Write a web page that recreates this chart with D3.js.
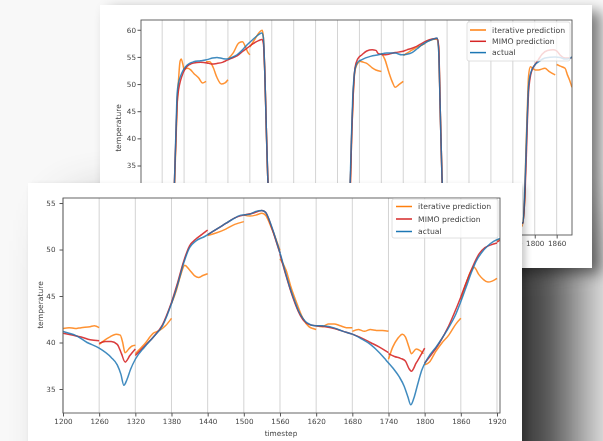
<!DOCTYPE html>
<html>
<head>
<meta charset="utf-8">
<script src="https://cdn.jsdelivr.net/npm/d3@7"></script>
<style>
  body { margin: 0; background: #f7f7f7; }
  svg { display: block; }
  text { font-family: "DejaVu Sans", sans-serif; }
</style>
</head>
<body>
<div id="chart"></div>
<script>
// ---------- data: front chart (zoomed window) ----------
const frontXTicks = [1200, 1260, 1320, 1380, 1440, 1500, 1560, 1620, 1680, 1740, 1800, 1860, 1920];
const frontYTicks = [35, 40, 45, 50, 55];

const frontActual = [
  [1200, 41.2], [1210, 41.0], [1220, 40.8], [1240, 40.0], [1260, 39.4], [1280, 38.4], [1290, 37.6],
  [1296, 36.6], [1301, 35.4], [1306, 36.0], [1312, 37.1], [1320, 38.2], [1335, 39.5], [1350, 40.6],
  [1365, 41.8], [1380, 44.2], [1390, 46.2], [1400, 48.5], [1410, 50.2], [1420, 50.9], [1435, 51.4],
  [1450, 52.0], [1465, 52.6], [1480, 53.2], [1495, 53.7], [1510, 53.8], [1520, 54.1], [1530, 54.2],
  [1536, 54.0], [1546, 52.5], [1555, 50.7], [1562, 49.2], [1570, 47.3], [1576, 46.0], [1583, 44.7],
  [1590, 43.5], [1598, 42.6], [1605, 42.1], [1618, 41.8], [1630, 41.8], [1648, 41.6], [1665, 41.2],
  [1680, 40.9], [1695, 40.4], [1710, 39.8], [1725, 38.9], [1736, 38.1], [1748, 37.2], [1758, 36.3],
  [1766, 35.3], [1772, 34.2], [1777, 33.3], [1782, 34.0], [1788, 35.4], [1795, 37.0], [1805, 38.3],
  [1820, 39.6], [1836, 41.2], [1852, 43.1], [1860, 44.4], [1869, 46.0], [1878, 47.6], [1885, 48.7],
  [1895, 49.7], [1905, 50.4], [1915, 50.9], [1925, 51.2]
];

const frontMimo = [
  [[1200, 41.0], [1215, 40.8], [1230, 40.6], [1245, 40.3], [1260, 40.2]],
  [[1260, 39.9], [1270, 40.1], [1280, 40.1], [1290, 39.8], [1297, 38.8], [1303, 37.9], [1311, 38.6], [1320, 39.3]],
  [[1320, 38.6], [1335, 39.6], [1350, 40.6], [1365, 41.9], [1380, 44.3]],
  [[1380, 44.3], [1390, 46.4], [1400, 48.7], [1410, 50.4], [1420, 51.1], [1430, 51.6], [1440, 52.1]],
  [[1440, 51.6], [1455, 52.2], [1470, 52.8], [1485, 53.4], [1500, 53.7]],
  [[1500, 53.7], [1515, 53.9], [1530, 54.2], [1536, 54.0], [1546, 52.4], [1555, 50.6], [1560, 49.6]],
  [[1560, 49.5], [1570, 47.2], [1580, 45.1], [1590, 43.4], [1600, 42.3], [1610, 41.9], [1620, 41.8]],
  [[1620, 41.8], [1635, 41.7], [1650, 41.5], [1665, 41.2], [1680, 40.9]],
  [[1680, 40.9], [1695, 40.5], [1710, 40.0], [1725, 39.5], [1740, 38.9]],
  [[1740, 38.8], [1750, 38.5], [1760, 38.3], [1768, 38.0], [1774, 37.2], [1778, 36.9], [1786, 37.8], [1795, 38.8], [1800, 39.4]],
  [[1800, 37.8], [1810, 38.6], [1825, 40.0], [1840, 41.8], [1852, 43.6], [1860, 44.9]],
  [[1860, 44.9], [1870, 46.6], [1880, 48.2], [1890, 49.5], [1900, 50.2], [1910, 50.5], [1920, 50.7]],
  [[1920, 50.8], [1925, 51.0]]
];

const frontIterative = [
  [[1200, 41.5], [1210, 41.6], [1220, 41.5], [1230, 41.6], [1245, 41.7], [1252, 41.8], [1260, 41.6]],
  [[1260, 39.8], [1268, 40.2], [1278, 40.6], [1288, 40.9], [1295, 40.8], [1299, 40.0], [1303, 38.9], [1309, 39.3], [1314, 39.6], [1320, 39.7]],
  [[1320, 38.8], [1335, 39.8], [1350, 41.0], [1360, 41.3], [1370, 41.8], [1380, 42.6]],
  [[1380, 44.2], [1388, 45.6], [1395, 47.2], [1402, 48.3], [1410, 47.8], [1418, 47.2], [1425, 47.0], [1432, 47.2], [1440, 47.4]],
  [[1440, 51.5], [1455, 51.8], [1470, 52.2], [1485, 52.7], [1500, 53.0]],
  [[1500, 53.7], [1510, 53.6], [1520, 53.7], [1530, 53.9], [1536, 53.7], [1546, 52.3], [1554, 51.0], [1560, 49.9]],
  [[1560, 49.0], [1570, 47.8], [1578, 46.0], [1588, 44.2], [1598, 42.6], [1608, 41.7], [1615, 41.5], [1620, 41.4]],
  [[1620, 41.8], [1630, 41.7], [1640, 42.0], [1650, 42.0], [1660, 41.8], [1670, 41.6], [1680, 41.6]],
  [[1680, 41.2], [1690, 41.4], [1700, 41.2], [1710, 41.4], [1720, 41.3], [1730, 41.3], [1740, 41.2]],
  [[1740, 38.2], [1747, 39.5], [1755, 40.4], [1763, 40.9], [1768, 40.6], [1774, 39.5], [1778, 38.8], [1786, 39.3], [1793, 39.1], [1798, 38.8]],
  [[1800, 37.6], [1808, 37.9], [1818, 39.0], [1828, 39.9], [1840, 40.8], [1852, 42.0], [1860, 42.6]],
  [[1860, 44.6], [1868, 46.2], [1876, 47.6], [1882, 48.1], [1890, 47.3], [1897, 46.8], [1905, 46.5], [1912, 46.6], [1920, 46.9]],
  [[1920, 51.0], [1925, 51.1]]
];

// ---------- data: back chart (wide window) ----------
const backXTicks = [780, 840, 900, 960, 1020, 1080, 1140, 1200, 1260, 1320, 1380, 1440, 1500, 1560, 1620, 1680, 1740, 1800, 1860];
const backYTicks = [25, 30, 35, 40, 45, 50, 55, 60];

const backActual = [
  [722, 25.5], [800, 25.0], [811, 26.0], [814, 32.8], [818, 42.0], [821, 48.3], [825, 50.3], [830, 51.4],
  [837, 52.5], [844, 53.2], [855, 53.8], [866, 54.1], [885, 54.3], [903, 54.5], [918, 54.8], [930, 54.9],
  [945, 54.7], [958, 54.6], [970, 54.9], [985, 55.4], [1000, 56.3], [1012, 57.2], [1028, 58.2], [1044, 59.1],
  [1053, 59.4], [1057, 58.6], [1061, 52.0], [1065, 42.0], [1069, 33.0], [1075, 27.0], [1085, 25.0],
  [1290, 24.5], [1295, 32.8], [1299, 42.0], [1302, 48.0], [1304, 50.2], [1308, 52.8], [1315, 54.0],
  [1327, 54.5], [1350, 55.1], [1372, 55.4], [1395, 55.7], [1418, 55.7], [1436, 55.4], [1450, 55.5],
  [1464, 55.8], [1478, 56.5], [1491, 57.2], [1505, 57.8], [1519, 58.2], [1528, 58.4], [1533, 58.5],
  [1537, 56.0], [1541, 46.0], [1546, 33.0], [1552, 27.0], [1562, 25.0], [1768, 24.4], [1774, 32.8],
  [1778, 41.0], [1781, 46.5], [1783, 49.5], [1787, 51.5], [1792, 52.6], [1800, 53.5], [1810, 54.1],
  [1828, 54.8], [1856, 55.0], [1870, 54.9], [1883, 54.6], [1895, 54.7], [1902, 55.0]
];

const backMimo = [
  [[722, 25.5], [800, 25.0], [811, 26.0], [814, 32.8], [818, 41.0], [821, 46.5], [825, 49.0], [830, 50.6],
   [837, 52.0], [845, 53.0], [855, 53.6], [866, 53.9], [885, 54.0], [903, 53.9], [915, 53.7], [930, 53.8],
   [945, 54.0], [958, 54.4], [975, 54.9], [985, 55.2], [1000, 56.0], [1012, 56.6], [1028, 57.4], [1044, 58.0],
   [1053, 58.2], [1057, 57.5], [1061, 52.0], [1065, 42.0], [1069, 33.0], [1075, 27.0], [1085, 25.0]],
  [[1085, 25.0], [1290, 24.5], [1295, 31.0], [1299, 41.0], [1303, 48.0], [1308, 53.0], [1315, 54.6],
   [1327, 55.4], [1340, 56.1], [1355, 56.3], [1365, 56.2], [1372, 55.6], [1385, 55.4], [1400, 55.5],
   [1418, 55.8], [1436, 56.0], [1450, 56.3], [1464, 56.6], [1478, 57.0], [1491, 57.5], [1505, 58.0],
   [1519, 58.3], [1528, 58.4], [1533, 58.4], [1537, 57.0], [1541, 46.0], [1546, 33.0], [1552, 27.0], [1562, 25.0]],
  [[1562, 25.0], [1768, 24.4], [1774, 31.0], [1778, 39.0], [1781, 45.5], [1783, 48.5], [1787, 51.0],
   [1792, 52.5], [1800, 53.5], [1810, 54.5], [1820, 55.5], [1835, 56.2], [1850, 56.3], [1860, 56.1],
   [1870, 55.3], [1883, 54.8], [1895, 54.8], [1902, 54.9]]
];

const backIterative = [
  [[722, 25.5], [780, 25.0], [810, 25.5], [814, 32.0], [818, 40.0], [821, 46.0], [825, 51.0], [829, 54.2], [832, 54.6], [836, 53.8], [840, 52.5]],
  [[840, 52.8], [850, 52.9], [858, 52.6], [866, 52.0], [880, 51.1], [890, 50.2], [900, 50.5]],
  [[900, 54.1], [910, 54.1], [920, 53.0], [930, 51.2], [942, 50.0], [952, 50.2], [960, 50.8]],
  [[960, 54.6], [975, 55.8], [990, 57.6], [1000, 57.8], [1007, 57.0], [1015, 55.8], [1020, 55.4]],
  [[1020, 56.8], [1035, 58.4], [1050, 59.8], [1054, 59.9], [1057, 58.6], [1061, 52.0], [1065, 42.0], [1069, 33.0], [1080, 26.0]],
  [[1080, 25.2], [1200, 24.8], [1290, 25.0], [1295, 31.0], [1299, 41.0], [1303, 48.0], [1308, 52.6], [1315, 53.8], [1320, 54.0]],
  [[1320, 54.3], [1327, 54.1], [1340, 53.8], [1355, 53.0], [1365, 52.6], [1380, 52.3]],
  [[1380, 55.7], [1390, 54.5], [1400, 52.3], [1410, 50.4], [1418, 49.4], [1428, 49.9], [1440, 50.5]],
  [[1440, 55.3], [1455, 55.9], [1470, 56.5], [1485, 57.0], [1500, 57.5]],
  [[1500, 57.7], [1515, 58.1], [1528, 58.3], [1533, 58.2], [1537, 56.5], [1541, 46.0], [1546, 33.0], [1552, 27.0], [1560, 25.0]],
  [[1560, 25.0], [1680, 24.5], [1740, 24.2]],
  [[1740, 24.2], [1765, 23.8], [1772, 28.0], [1776, 38.0], [1780, 46.0], [1783, 51.4], [1788, 53.2], [1792, 53.0], [1800, 52.6]],
  [[1800, 52.6], [1810, 52.6], [1828, 52.9], [1840, 52.3], [1856, 51.7]],
  [[1860, 53.6], [1870, 53.3], [1883, 52.9], [1890, 51.6], [1895, 50.8], [1902, 49.4]]
];

const legendLabels = ["iterative prediction", "MIMO prediction", "actual"];
const colors = { iterative: "#ff7f0e", mimo: "#d62728", actual: "#1f77b4" };

// ---------- drawing ----------
const W = 603, H = 441;
const svg = d3.select("#chart").append("svg").attr("width", W).attr("height", H);
const defs = svg.append("defs");

const blur = (id, sd) => defs.append("filter").attr("id", id)
  .attr("x", "-50%").attr("y", "-50%").attr("width", "200%").attr("height", "200%")
  .append("feGaussianBlur").attr("stdDeviation", sd);
blur("shadowBig", 32);
blur("shadowMid", 7);
blur("shadowSmall", 3);
blur("soft", 0.45);

svg.append("rect").attr("width", W).attr("height", H).attr("fill", "#f8f8f8");

// shadow of the front card sits behind everything
svg.append("rect").attr("x", 80).attr("y", 220).attr("width", 495).attr("height", 330)
  .attr("fill", "#000").attr("opacity", 0.78).attr("filter", "url(#shadowBig)");

const panel = (cfg) => {
  const g = svg.append("g");
  g.append("rect").attr("x", cfg.card[0] + cfg.shadowOffset[0]).attr("y", cfg.card[1] + cfg.shadowOffset[1])
    .attr("width", cfg.card[2]).attr("height", cfg.card[3])
    .attr("fill", "#000").attr("opacity", cfg.shadowOpacity).attr("filter", `url(#${cfg.shadow})`);
  g.append("rect").attr("x", cfg.card[0]).attr("y", cfg.card[1])
    .attr("width", cfg.card[2]).attr("height", cfg.card[3]).attr("fill", "#fff");

  const c = g.append("g").attr("filter", "url(#soft)");
  const x = d3.scaleLinear().domain(cfg.xDomain).range([cfg.left, cfg.right]);
  const y = d3.scaleLinear().domain(cfg.yDomain).range([cfg.bottom, cfg.top]);

  c.append("g").selectAll("line").data(cfg.xTicks).join("line")
    .attr("x1", d => x(d)).attr("x2", d => x(d))
    .attr("y1", cfg.top).attr("y2", cfg.bottom)
    .attr("stroke", "#cfcfcf").attr("stroke-width", 0.9);

  defs.append("clipPath").attr("id", cfg.id).append("rect")
    .attr("x", cfg.left).attr("y", cfg.top)
    .attr("width", cfg.right - cfg.left).attr("height", cfg.bottom - cfg.top);

  const line = d3.line().x(d => x(d[0])).y(d => y(d[1])).curve(d3.curveMonotoneX);
  const lines = c.append("g").attr("clip-path", `url(#${cfg.id})`).attr("fill", "none")
    .attr("stroke-width", 1.5).attr("stroke-linejoin", "round");

  lines.selectAll(".it").data(cfg.iterative).join("path").attr("class", "it")
    .attr("d", line).attr("stroke", colors.iterative).attr("opacity", 0.85);
  lines.selectAll(".mi").data(cfg.mimo).join("path").attr("class", "mi")
    .attr("d", line).attr("stroke", colors.mimo).attr("opacity", 0.9);
  lines.append("path").attr("d", line(cfg.actual)).attr("stroke", colors.actual).attr("opacity", 0.85);

  const xAxis = c.append("g").attr("transform", `translate(0,${cfg.bottom})`)
    .call(d3.axisBottom(x).tickValues(cfg.xTicks).tickSize(3.5).tickPadding(2.5).tickFormat(d3.format("d")));
  const yAxis = c.append("g").attr("transform", `translate(${cfg.left},0)`)
    .call(d3.axisLeft(y).tickValues(cfg.yTicks).tickSize(3.5).tickPadding(cfg.yPad));
  [xAxis, yAxis].forEach(a => {
    a.select(".domain").remove();
    a.selectAll("line").attr("stroke", "#555");
    a.selectAll("text").attr("fill", "#444").style("font-size", "7.2px")
      .style("font-family", "'DejaVu Sans', sans-serif");
  });

  c.append("rect").attr("x", cfg.left).attr("y", cfg.top)
    .attr("width", cfg.right - cfg.left).attr("height", cfg.bottom - cfg.top)
    .attr("fill", "none").attr("stroke", "#555").attr("stroke-width", 0.9);

  c.append("text").text("temperature")
    .attr("transform", `translate(${cfg.yLabel[0]},${cfg.yLabel[1]}) rotate(-90)`)
    .attr("text-anchor", "middle").attr("fill", "#444").style("font-size", "7.6px");
  c.append("text").text("timestep").attr("x", cfg.xLabel[0]).attr("y", cfg.xLabel[1])
    .attr("text-anchor", "middle").attr("fill", "#444").style("font-size", "7.4px");

  const lg = c.append("g");
  lg.append("rect").attr("x", cfg.legend[0]).attr("y", cfg.legend[1])
    .attr("width", cfg.legend[2]).attr("height", cfg.legend[3]).attr("rx", 2)
    .attr("fill", "#fff").attr("fill-opacity", 0.8).attr("stroke", "#d8d8d8").attr("stroke-width", 0.8);
  const keys = ["iterative", "mimo", "actual"];
  legendLabels.forEach((lab, i) => {
    const ry = cfg.legendRows[i];
    lg.append("line").attr("x1", cfg.legendLine[0]).attr("x2", cfg.legendLine[1])
      .attr("y1", ry).attr("y2", ry).attr("stroke", colors[keys[i]]).attr("stroke-width", 1.5);
    lg.append("text").text(lab).attr("x", cfg.legendText).attr("y", ry + 2.6)
      .attr("fill", "#444").style("font-size", "7.7px");
  });
};

// back card
panel({
  id: "clipBack", card: [100, 5, 492, 263], shadow: "shadowMid", shadowOpacity: 0.5, shadowOffset: [9, 6],
  left: 141, right: 572, top: 20, bottom: 235,
  xDomain: [722, 1902], yDomain: [22.2, 61.8],
  xTicks: backXTicks, yTicks: backYTicks, yPad: 1.5,
  actual: backActual, mimo: backMimo, iterative: backIterative,
  yLabel: [120.5, 128], xLabel: [356, 258],
  legend: [467, 22, 103, 39], legendRows: [30, 41.3, 52.6], legendLine: [470, 486], legendText: 492
});

// front card
panel({
  id: "clipFront", card: [28, 183, 494, 270], shadow: "shadowSmall", shadowOpacity: 0.2, shadowOffset: [4, 3],
  left: 63, right: 500, top: 198, bottom: 413,
  xDomain: [1200, 1925], yDomain: [32.42, 55.54],
  xTicks: frontXTicks, yTicks: frontYTicks, yPad: 4,
  actual: frontActual, mimo: frontMimo, iterative: frontIterative,
  yLabel: [43, 305], xLabel: [281, 436],
  legend: [392, 199, 106, 39], legendRows: [206.5, 219, 231.5], legendLine: [396, 412], legendText: 418
});
</script>
</body>
</html>
